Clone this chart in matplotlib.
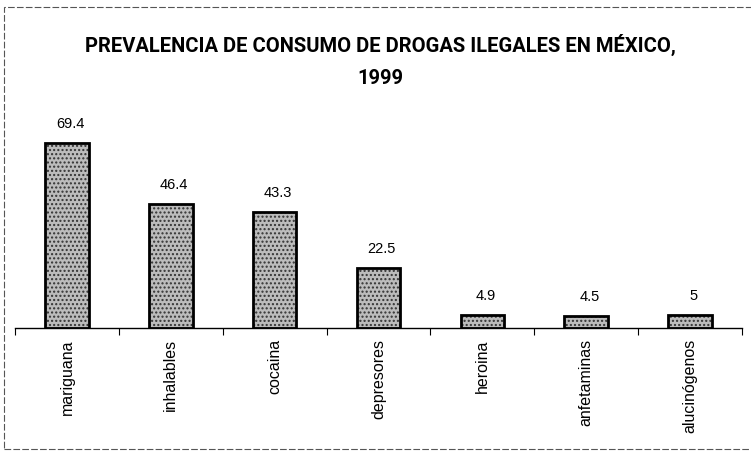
import matplotlib.pyplot as plt
from matplotlib.patches import Rectangle
import numpy as np

plt.rcParams['font.family'] = ['Liberation Sans', 'DejaVu Sans']

# data
drogas = ['mariguana', 'inhalables', 'cocaina', 'depresores', 'heroina', 'anfetaminas', 'alucinógenos']
valores = [69.4, 46.4, 43.3, 22.5, 4.9, 4.5, 5]
etiquetas = ['69.4', '46.4', '43.3', '22.5', '4.9', '4.5', '5']

fig = plt.figure(figsize=(7.51, 4.54), dpi=100)
ax = fig.add_axes([0.02, 0.2775, 0.968, 0.50])

x = np.arange(len(drogas))
bars = ax.bar(x, valores, width=0.42, facecolor='#bcbcbc', edgecolor='black',
              linewidth=2, hatch='....', zorder=2)
for b in bars:
    b._hatch_color = (0.2, 0.2, 0.2, 1.0)

for xi, v, t in zip(x, valores, etiquetas):
    ax.text(xi + 0.03, v + 4.5, t, ha='center', va='bottom', fontsize=10.5)

ax.set_xlim(-0.5, len(drogas) - 0.5)
ax.set_ylim(0, 85)

# category boundaries get small ticks, names sit at the centres
ax.set_xticks(x)
ax.set_xticklabels(drogas, rotation=90, fontsize=11.5, va='top')
ax.tick_params(axis='x', which='major', length=0, pad=8)
ax.set_xticks(np.arange(-0.5, len(drogas)), minor=True)
ax.tick_params(axis='x', which='minor', length=5, direction='out', width=0.8)
ax.set_yticks([])
for s in ['left', 'right', 'top']:
    ax.spines[s].set_visible(False)
ax.spines['bottom'].set_linewidth(1)

fig.text(0.507, 0.866, 'PREVALENCIA DE CONSUMO DE DROGAS ILEGALES EN MÉXICO,\n1999',
         ha='center', va='center', fontsize=14.5, fontweight='bold',
         linespacing=1.9, family=['Roboto', 'Liberation Sans', 'DejaVu Sans'])

# scanned page border
fig.patches.append(Rectangle((0.005, 0.012), 1.2, 0.972, transform=fig.transFigure,
                             fill=False, edgecolor='#555555', linewidth=0.8,
                             linestyle=(0, (6, 2))))

fig.savefig('out.png', dpi=100)
